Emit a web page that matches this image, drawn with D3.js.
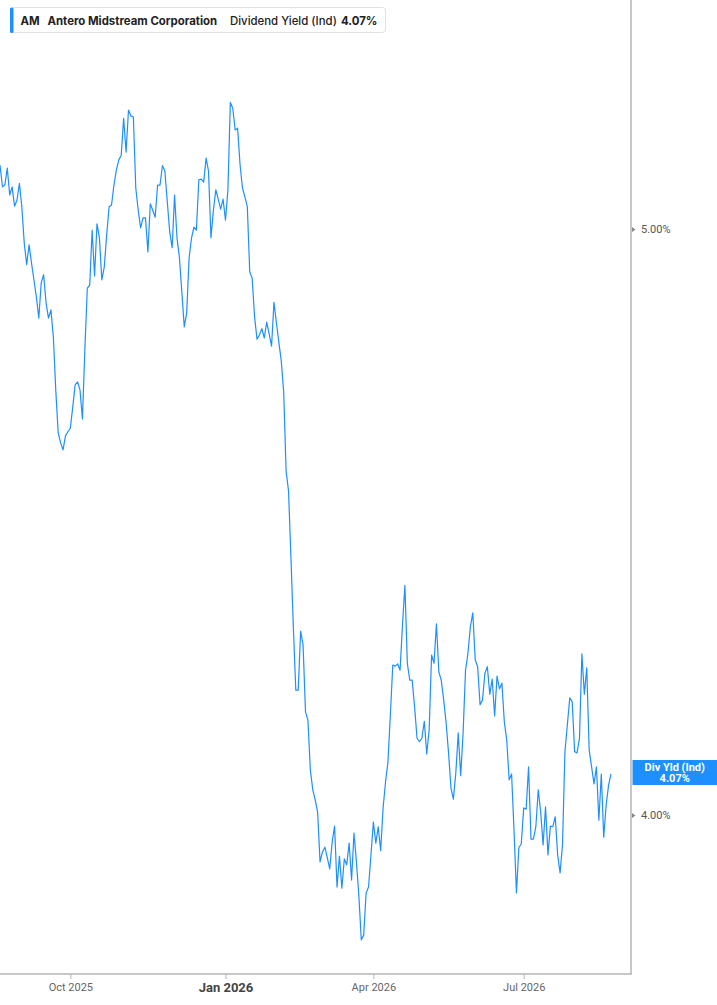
<!DOCTYPE html>
<html>
<head>
<meta charset="utf-8">
<script src="https://cdn.jsdelivr.net/npm/d3@7"></script>
<style>
  html, body { margin: 0; padding: 0; background: #fff; }
  svg { display: block; }
</style>
</head>
<body>
<div id="chart"></div>
<script>
// ---- Data (one value per trading day, Aug 2025 – Aug 2026) ----
const ticker = "AM";
const company = "Antero Midstream Corporation";
const metric = "Dividend Yield (Ind)";
const lastLabel = "Div Yld (Ind)";

const yieldValues = [
  5.109, 5.072, 5.075, 5.104, 5.058, 5.072, 5.039, 5.049, 5.078, 5.038,
  4.976, 4.939, 4.973, 4.942, 4.913, 4.884, 4.848, 4.908, 4.922, 4.874,
  4.848, 4.862, 4.816, 4.725, 4.652, 4.635, 4.623, 4.647, 4.654, 4.660,
  4.696, 4.734, 4.739, 4.725, 4.676, 4.794, 4.899, 4.904, 4.998, 4.920,
  5.009, 4.985, 4.913, 4.935, 4.990, 5.038, 5.041, 5.075, 5.101, 5.118,
  5.126, 5.189, 5.131, 5.203, 5.193, 5.191, 5.070, 5.032, 5.002, 5.019,
  5.019, 4.961, 5.043, 5.032, 5.020, 5.075, 5.075, 5.108, 5.099, 5.046,
  4.995, 4.968, 5.058, 4.985, 4.951, 4.892, 4.833, 4.857, 4.951, 4.985,
  5.003, 4.998, 5.084, 5.085, 5.080, 5.121, 5.099, 4.985, 5.031, 5.067,
  5.051, 5.034, 5.051, 5.015, 5.067, 5.216, 5.206, 5.169, 5.172, 5.110,
  5.070, 5.055, 5.038, 4.927, 4.916, 4.850, 4.812, 4.819, 4.830, 4.814,
  4.841, 4.821, 4.800, 4.875, 4.840, 4.807, 4.775, 4.722, 4.587, 4.553,
  4.439, 4.319, 4.213, 4.213, 4.314, 4.290, 4.176, 4.162, 4.077, 4.043,
  4.026, 4.005, 3.920, 3.937, 3.945, 3.927, 3.908, 3.954, 3.981, 3.877,
  3.930, 3.875, 3.925, 3.915, 3.952, 3.889, 3.969, 3.920, 3.863, 3.787,
  3.795, 3.867, 3.877, 3.932, 3.988, 3.952, 3.980, 3.939, 4.012, 4.056,
  4.090, 4.171, 4.256, 4.254, 4.258, 4.247, 4.324, 4.392, 4.259, 4.230,
  4.230, 4.184, 4.131, 4.125, 4.131, 4.160, 4.104, 4.145, 4.273, 4.259,
  4.326, 4.244, 4.230, 4.196, 4.157, 4.106, 4.046, 4.027, 4.072, 4.140,
  4.067, 4.140, 4.247, 4.276, 4.321, 4.345, 4.265, 4.253, 4.188, 4.196,
  4.242, 4.253, 4.206, 4.232, 4.169, 4.237, 4.215, 4.225, 4.159, 4.128,
  4.060, 4.070, 3.974, 3.867, 3.944, 3.951, 4.012, 4.010, 4.082, 3.959,
  3.959, 3.980, 4.043, 4.005, 3.949, 4.014, 3.932, 3.981, 3.980, 3.997,
  3.932, 3.901, 3.949, 4.108, 4.154, 4.200, 4.193, 4.108, 4.106, 4.131,
  4.275, 4.206, 4.251, 4.111, 4.082, 4.053, 4.082, 3.991, 4.070, 3.962,
  4.017, 4.051, 4.070
];

// x-axis ticks: trading-day index of first session of each labelled month
const xTickIndex  = [29, 93, 154, 216];
const xTickLabels = ["Oct 2025", "Jan 2026", "Apr 2026", "Jul 2026"];
const xTickBold   = [false, true, false, false];

// y-axis ticks (percent)
const yTickValues = [4.0, 5.0];

// ---- Layout ----
const W = 717, H = 1005;
const plotRight = 631, plotBottom = 974;
const lineColor = "#1e8fff";
const axisColor = "#b4b4b4";

const svg = d3.select("#chart").append("svg")
  .attr("width", W).attr("height", H);

const x = d3.scaleLinear()
  .domain([0, yieldValues.length - 1])
  .range([0, 611]);

const y = d3.scaleLinear()
  .domain([4, 5])
  .range([815, 229]);

// clip
svg.append("clipPath").attr("id", "plotclip")
  .append("rect").attr("x", 0).attr("y", 0).attr("width", plotRight).attr("height", plotBottom);

// line
const line = d3.line()
  .x((d, i) => x(i))
  .y(d => y(d));

svg.append("path")
  .datum(yieldValues)
  .attr("clip-path", "url(#plotclip)")
  .attr("fill", "none")
  .attr("stroke", lineColor)
  .attr("stroke-width", 1.2)
  .attr("stroke-linejoin", "round")
  .attr("d", line);

// axis frame lines
svg.append("line")
  .attr("x1", plotRight).attr("x2", plotRight)
  .attr("y1", 0).attr("y2", plotBottom)
  .attr("stroke", axisColor).attr("stroke-width", 1.5);
svg.append("line")
  .attr("x1", 0).attr("x2", plotRight + 0.75)
  .attr("y1", plotBottom).attr("y2", plotBottom)
  .attr("stroke", axisColor).attr("stroke-width", 1.5);

// x axis
const xAxis = d3.axisBottom(x)
  .tickValues(xTickIndex)
  .tickFormat((d, i) => xTickLabels[i])
  .tickSize(5)
  .tickPadding(4);

const gx = svg.append("g")
  .attr("transform", `translate(0,${plotBottom})`)
  .call(xAxis);
gx.select(".domain").remove();
gx.selectAll(".tick line").attr("stroke", axisColor).attr("stroke-width", 1);
gx.selectAll(".tick text")
  .attr("font-family", "Roboto, 'Noto Sans', sans-serif")
  .attr("font-size", (d, i) => xTickBold[i] ? 13 : 11)
  .attr("font-weight", (d, i) => xTickBold[i] ? "bold" : "normal")
  .attr("fill", (d, i) => xTickBold[i] ? "#444" : "#666")
  .attr("dy", (d, i) => xTickBold[i] ? "0.68em" : "0.75em");

// y axis (right)
const yAxis = d3.axisRight(y)
  .tickValues(yTickValues)
  .tickFormat(d => d3.format(".2f")(d) + "%")
  .tickSize(0)
  .tickPadding(10);

const gy = svg.append("g")
  .attr("transform", `translate(${plotRight},0)`)
  .call(yAxis);
gy.select(".domain").remove();
gy.selectAll(".tick text")
  .attr("font-family", "Roboto, 'Noto Sans', sans-serif")
  .attr("font-size", 11)
  .attr("fill", "#555");
gy.selectAll(".tick").append("path")
  .attr("d", "M1,-2.5 L4.5,0 L1,2.5 Z")
  .attr("fill", "#888");

// last value label on right
const lastVal = yieldValues[yieldValues.length - 1];
const ly = y(lastVal);
const lg = svg.append("g");
lg.append("rect")
  .attr("x", plotRight + 1.5).attr("y", ly - 14)
  .attr("width", W - plotRight - 1.5).attr("height", 25)
  .attr("fill", "#1e8fff");
lg.append("text")
  .attr("x", (plotRight + 1.5 + W) / 2).attr("y", ly - 3)
  .attr("text-anchor", "middle")
  .attr("font-family", "Roboto, 'Noto Sans', sans-serif")
  .attr("font-size", 11).attr("font-weight", "bold")
  .attr("fill", "#fff")
  .text(lastLabel);
lg.append("text")
  .attr("x", (plotRight + 1.5 + W) / 2).attr("y", ly + 8)
  .attr("text-anchor", "middle")
  .attr("font-family", "Roboto, 'Noto Sans', sans-serif")
  .attr("font-size", 11).attr("font-weight", "bold")
  .attr("fill", "#fff")
  .text(d3.format(".2f")(lastVal) + "%");

// legend box
const leg = svg.append("g");
leg.append("rect")
  .attr("x", 10.5).attr("y", 7.5).attr("width", 375).attr("height", 25)
  .attr("rx", 3).attr("fill", "#fff").attr("stroke", "#e2e2e2");
leg.append("rect")
  .attr("x", 10).attr("y", 7.5).attr("width", 3.5).attr("height", 25.5)
  .attr("rx", 1.5).attr("fill", lineColor);
const legFont = "Inter, Roboto, sans-serif";
const legItems = [
  { t: ticker, x: 20.5, w: "bold" },
  { t: company, x: 47.5, w: "bold" },
  { t: metric, x: 230, w: "normal" },
  { t: d3.format(".2f")(lastVal) + "%", x: 341, w: "bold" }
];
leg.selectAll("text.leg").data(legItems).join("text")
  .attr("class", "leg")
  .attr("x", d => d.x).attr("y", 25)
  .attr("font-family", legFont)
  .attr("font-size", 11.4)
  .attr("font-weight", d => d.w === "bold" ? 700 : 500)
  .attr("fill", "#222")
  .text(d => d.t);
</script>
</body>
</html>
